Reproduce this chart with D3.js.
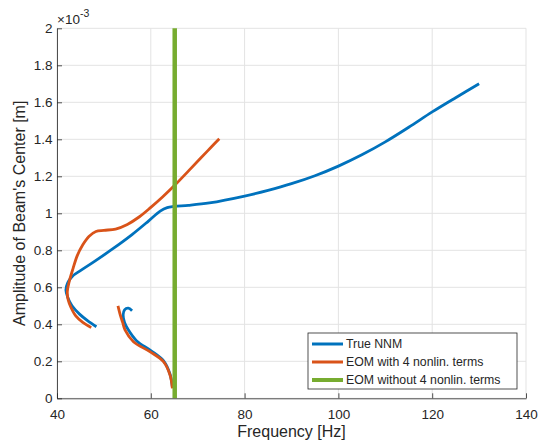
<!DOCTYPE html>
<html>
<head>
<meta charset="utf-8">
<script src="https://cdn.jsdelivr.net/npm/d3@7"></script>
<style>
  body { margin: 0; background: #fff; }
  svg text { font-family: "Liberation Sans", Arial, Helvetica, sans-serif; fill: #262626; }
</style>
</head>
<body>
<div id="chart"></div>
<script>

// x ticks / y ticks (amplitude in units of 1e-3 m)
var xTicks = [40, 60, 80, 100, 120, 140];
var yTicks = [0, 0.2, 0.4, 0.6, 0.8, 1, 1.2, 1.4, 1.6, 1.8, 2];
var yTickLabels = ["0", "0.2", "0.4", "0.6", "0.8", "1", "1.2", "1.4", "1.6", "1.8", "2"];

// True NNM - upper branch
var nnmUpperFreq = [48.4, 46.5, 44.8, 43.2, 42.3, 41.9, 42.3, 43.3, 45, 48, 52, 56, 59.5, 62, 63.5, 65, 68, 72.5, 80, 85, 90, 95, 100, 105, 110, 115, 120, 125, 130];
var nnmUpperAmp  = [0.387, 0.42, 0.455, 0.50, 0.545, 0.585, 0.625, 0.66, 0.69, 0.74, 0.81, 0.885, 0.958, 1.012, 1.031, 1.037, 1.043, 1.056, 1.093, 1.124, 1.16, 1.203, 1.255, 1.316, 1.386, 1.465, 1.548, 1.625, 1.70];
// True NNM - lower branch
var nnmLowerFreq = [56.0, 55.2, 54.4, 54.1, 54.4, 55.2, 57.0, 60.0, 62.8, 64.1, 64.6];
var nnmLowerAmp  = [0.473, 0.487, 0.478, 0.45, 0.41, 0.37, 0.31, 0.258, 0.20, 0.13, 0.06];

// EOM with 4 nonlinear terms - upper branch
var eomUpperFreq = [47.3, 45.5, 44, 43.0, 42.4, 42.2, 42.6, 43.4, 44.3, 45.5, 46.8, 48.3, 50, 52.5, 55, 57.5, 60, 62.5, 65.2, 68, 70.5, 72.6, 74.6];
var eomUpperAmp  = [0.382, 0.41, 0.445, 0.49, 0.53, 0.577, 0.63, 0.70, 0.77, 0.83, 0.875, 0.902, 0.908, 0.915, 0.94, 0.98, 1.032, 1.088, 1.154, 1.228, 1.295, 1.35, 1.403];
// EOM with 4 nonlinear terms - lower branch
var eomLowerFreq = [53.0, 53.5, 54.0, 54.5, 56.3, 59.8, 62.7, 64.1, 64.6];
var eomLowerAmp  = [0.50, 0.45, 0.41, 0.37, 0.306, 0.252, 0.198, 0.126, 0.054];

// EOM without 4 nonlinear terms (linear: constant frequency)
var linFreq = [65.1, 65.1];
var linAmp  = [0, 2];

var legendNames = ["True NNM", "EOM with 4 nonlin. terms", "EOM without 4 nonlin. terms"];
var colors = ["#0072BD", "#D95319", "#77AC30"];

var width = 546, height = 442;
var plotLeft = 57, plotRight = 526, plotTop = 28.3, plotBottom = 398.3;

var x = d3.scaleLinear().domain([40, 140]).range([plotLeft, plotRight]);
var y = d3.scaleLinear().domain([0, 2]).range([plotBottom, plotTop]);

var svg = d3.select("#chart").append("svg")
    .attr("width", width)
    .attr("height", height);

// grid
svg.append("g").selectAll("line")
    .data(xTicks)
  .enter().append("line")
    .attr("x1", function(d) { return x(d); })
    .attr("x2", function(d) { return x(d); })
    .attr("y1", plotTop).attr("y2", plotBottom)
    .attr("stroke", "#e3e3e3").attr("stroke-width", 1);
svg.append("g").selectAll("line")
    .data(yTicks)
  .enter().append("line")
    .attr("y1", function(d) { return y(d); })
    .attr("y2", function(d) { return y(d); })
    .attr("x1", plotLeft).attr("x2", plotRight)
    .attr("stroke", "#e3e3e3").attr("stroke-width", 1);

function zip(fs, as) {
  return fs.map(function(f, i) { return [f, as[i]]; });
}

var line = d3.line()
    .x(function(d) { return x(d[0]); })
    .y(function(d) { return y(d[1]); })
    .curve(d3.curveCatmullRom);

var series = [
  {pts: zip(nnmUpperFreq, nnmUpperAmp), c: 0, w: 2.8},
  {pts: zip(nnmLowerFreq, nnmLowerAmp), c: 0, w: 2.8},
  {pts: zip(eomUpperFreq, eomUpperAmp), c: 1, w: 2.8},
  {pts: zip(eomLowerFreq, eomLowerAmp), c: 1, w: 2.8},
  {pts: zip(linFreq, linAmp), c: 2, w: 4.5}
];

svg.append("g").selectAll("path")
    .data(series)
  .enter().append("path")
    .attr("d", function(d) { return line(d.pts); })
    .attr("fill", "none")
    .attr("stroke", function(d) { return colors[d.c]; })
    .attr("stroke-width", function(d) { return d.w; })
    .attr("stroke-linejoin", "round");

// axes (MATLAB style, ticks inside)
var xAxis = svg.append("g")
    .attr("transform", "translate(0," + plotBottom + ")")
    .call(d3.axisBottom(x).tickValues(xTicks).tickSizeInner(-5).tickSizeOuter(0).tickPadding(11));
var yAxis = svg.append("g")
    .attr("transform", "translate(" + plotLeft + ",0)")
    .call(d3.axisLeft(y).tickValues(yTicks).tickSizeInner(-5).tickSizeOuter(0).tickPadding(4.5)
      .tickFormat(function(d, i) { return yTickLabels[i]; }));

[xAxis, yAxis].forEach(function(ax) {
  ax.select(".domain").attr("stroke", "#262626").attr("stroke-width", 0.8);
  ax.selectAll(".tick line").attr("stroke", "#262626").attr("stroke-width", 0.8);
  ax.selectAll(".tick text")
    .style("font-family", '"Liberation Sans", Arial, sans-serif')
    .style("font-size", "13.5px")
    .attr("fill", "#262626");
});

// axis labels
svg.append("text")
    .attr("x", (plotLeft + plotRight) / 2)
    .attr("y", 437)
    .attr("text-anchor", "middle")
    .style("font-size", "16px")
    .text("Frequency [Hz]");

svg.append("text")
    .attr("transform", "translate(24.5," + ((plotTop + plotBottom) / 2) + ") rotate(-90)")
    .attr("text-anchor", "middle")
    .style("font-size", "16px")
    .text("Amplitude of Beam's Center [m]");

// exponent
var expo = svg.append("text")
    .attr("x", 57)
    .attr("y", 24)
    .style("font-size", "13.5px");
expo.append("tspan").text("\u00d710");
expo.append("tspan").attr("dy", -7).style("font-size", "10.5px").text("-3");

// legend
var lg = svg.append("g").attr("transform", "translate(308,333)");
lg.append("rect")
    .attr("width", 209).attr("height", 56)
    .attr("fill", "#fff")
    .attr("stroke", "#262626").attr("stroke-width", 0.8);
var rows = lg.selectAll(".lrow")
    .data(legendNames)
  .enter().append("g")
    .attr("class", "lrow")
    .attr("transform", function(d, i) { return "translate(0," + (11 + i * 18) + ")"; });
rows.append("line")
    .attr("x1", 4).attr("x2", 35)
    .attr("stroke", function(d, i) { return colors[i]; })
    .attr("stroke-width", function(d, i) { return i == 2 ? 4 : 3; });
rows.append("text")
    .attr("x", 38)
    .attr("dy", "0.36em")
    .style("font-size", "12.3px")
    .text(function(d) { return d; });
</script>
</body>
</html>
